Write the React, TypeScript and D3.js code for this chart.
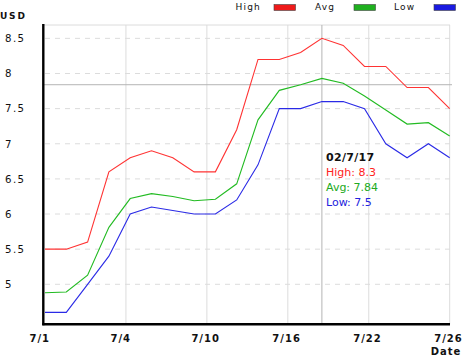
import React from "react";
import * as d3 from "d3";

const highValues = [5.5, 5.5, 5.6, 6.6, 6.8, 6.9, 6.8, 6.6, 6.6, 7.2, 8.2, 8.2, 8.3, 8.5, 8.4, 8.1, 8.1, 7.8, 7.8, 7.5];
const avgValues = [4.88, 4.89, 5.13, 5.81, 6.22, 6.29, 6.25, 6.19, 6.21, 6.43, 7.34, 7.76, 7.84, 7.93, 7.86, 7.68, 7.48, 7.28, 7.3, 7.11];
const lowValues = [4.6, 4.6, 5.0, 5.4, 6.0, 6.1, 6.05, 6.0, 6.0, 6.2, 6.7, 7.5, 7.5, 7.6, 7.6, 7.5, 7.0, 6.8, 7.0, 6.8];
const xTickLabels = ["7/1", "7/4", "7/10", "7/16", "7/22", "7/26"];
const yTickValues = [5, 5.5, 6, 6.5, 7, 7.5, 8, 8.5];
const yTickLabels = ["5", "5.5", "6", "6.5", "7", "7.5", "8", "8.5"];
const seriesNames = ["High", "Avg", "Low"];
const tooltipDate = "02/7/17";
const tooltipValues = ["8.3", "7.84", "7.5"];
const crossIndex = 13;
const crossValue = 7.84;

const lineColors = ["#ff3333", "#22bb22", "#2a2ae6"];
const boxColors = ["#ee1a1a", "#1fb01f", "#1a1ae0"];
const textColors = ["#ff2222", "#22aa22", "#2222dd"];
const FONT = "'DejaVu Sans', Verdana, sans-serif";

export default function App() {
  const W = 470, H = 360;
  const left = 43.3, top = 25, bottom = 324.3, right = 450;
  const x = d3.scaleLinear().domain([0, highValues.length - 1]).range([45, 449.7]);
  const y = d3.scaleLinear().domain([4.435, 8.69]).range([324, 25]);
  const tickIdx = d3.range(xTickLabels.length).map((i) => (i * (highValues.length - 1)) / (xTickLabels.length - 1));
  const line = d3.line<number>().x((_, i) => x(i)).y((d) => y(d));
  const series = [highValues, avgValues, lowValues];
  const legendX = [235.5, 315, 394];
  const boxX = [274, 354, 434];

  return (
    <svg width={W} height={H} style={{ position: "absolute", left: 0, top: 0, background: "#fff" }}>
      {/* horizontal dashed grid */}
      {yTickValues.map((v) => (
        <line key={"hg" + v} x1={45} x2={right} y1={y(v)} y2={y(v)} stroke="#dcdcdc" strokeDasharray="5,5" />
      ))}
      {/* top border */}
      <line x1={left} x2={right} y1={top} y2={top} stroke="#dcdcdc" />
      {/* vertical grid */}
      {tickIdx.slice(1).map((t, i) => (
        <line key={"vg" + i} x1={x(t)} x2={x(t)} y1={top} y2={bottom} stroke="#dcdcdc" />
      ))}
      {/* crosshair */}
      <line x1={x(crossIndex)} x2={x(crossIndex)} y1={top} y2={bottom} stroke="#b4b4b4" />
      <line x1={left} x2={452} y1={y(crossValue)} y2={y(crossValue)} stroke="#b4b4b4" />
      {/* series */}
      {series.map((s, k) => (
        <path key={"s" + k} d={line(s) || ""} fill="none" stroke={lineColors[k]} strokeWidth={1.1} />
      ))}
      {/* axes */}
      <line x1={left} x2={left} y1={top - 1} y2={bottom + 1} stroke="#000" strokeWidth={2.4} />
      <line x1={left - 1} x2={right} y1={bottom} y2={bottom} stroke="#000" strokeWidth={2.4} />
      {/* y labels */}
      {yTickValues.map((v, i) => (
        <text key={"yl" + v} x={5} y={y(v) + 3.8} fontFamily={FONT} fontSize={10.2} letterSpacing={1.4} fill="#111">
          {yTickLabels[i]}
        </text>
      ))}
      {/* x labels */}
      {tickIdx.map((t, i) => (
        <text key={"xl" + i} x={x(t) - 15.5} y={341.6} fontFamily={FONT} fontSize={10} fontWeight="bold" letterSpacing={1} fill="#111">
          {xTickLabels[i]}
        </text>
      ))}
      <text x={0} y={19.3} fontFamily={FONT} fontSize={9} fontWeight="bold" letterSpacing={1.8} fill="#111">USD</text>
      <text x={430.7} y={355} fontFamily={FONT} fontSize={10} fontWeight="bold" letterSpacing={1} fill="#111">Date</text>
      {/* legend */}
      {seriesNames.map((n, k) => (
        <g key={"lg" + k}>
          <text x={legendX[k]} y={10} fontFamily={FONT} fontSize={9} letterSpacing={1.2} fill="#111">{n}</text>
          <rect x={boxX[k]} y={4.5} width={21.5} height={6} fill={boxColors[k]} stroke="#444" strokeWidth={0.6} />
        </g>
      ))}
      {/* tooltip */}
      <text x={326} y={160.6} fontFamily={FONT} fontSize={11} fontWeight="bold" letterSpacing={0.3} fill="#111">{tooltipDate}</text>
      {seriesNames.map((n, k) => (
        <text key={"tt" + k} x={326} y={175.6 + k * 15} fontFamily={FONT} fontSize={11} fill={textColors[k]}>
          {n + ": " + tooltipValues[k]}
        </text>
      ))}
    </svg>
  );
}
